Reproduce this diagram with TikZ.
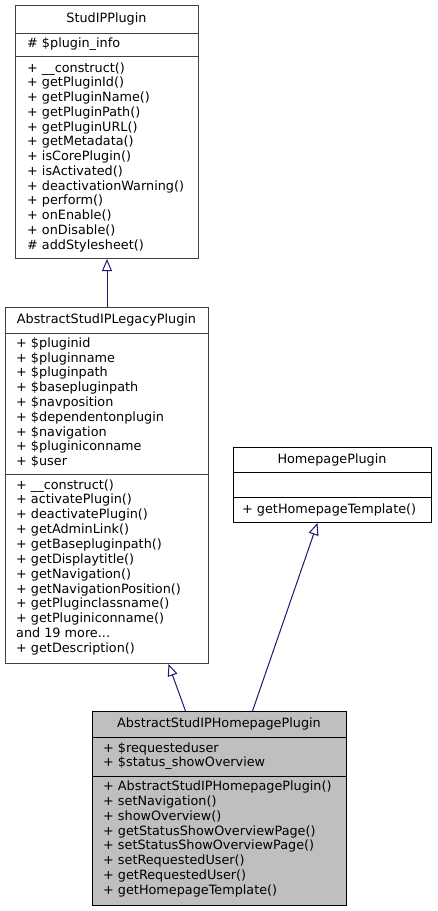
\documentclass[tikz,border=0pt]{standalone}
\usepackage{fontspec}
\setmainfont{DejaVu Sans}
\usetikzlibrary{arrows.meta}
\definecolor{edgeblue}{HTML}{191970}
\definecolor{boxgray}{HTML}{404040}
\definecolor{rootfill}{HTML}{BFBFBF}
\tikzset{
  classbox/.style={draw=boxgray, line width=1pt, anchor=north west, inner sep=0pt},
  sepline/.style={draw=boxgray, line width=1pt},
  member/.style={anchor=base west, inner sep=0pt},
  classname/.style={anchor=base, inner sep=0pt},
  inherit/.style={draw=edgeblue, line width=1pt, -{Triangle[open, length=12pt, width=10pt]}}
}
\begin{document}
\begin{tikzpicture}[x=1pt, y=-1pt]
\useasboundingbox (0,0) rectangle (437,911);
\fontsize{12.8}{14.8}\selectfont

% class boxes
\node[classbox, minimum width=183pt, minimum height=253pt] (studip) at (15,5) {};
\node[classbox, minimum width=203pt, minimum height=356pt] (legacy) at (5,307) {};
\node[classbox, draw=black, minimum width=198pt, minimum height=75pt] (homepage) at (233,447) {};
\node[classbox, draw=black, fill=rootfill, minimum width=254pt, minimum height=194pt] (abstracthp) at (92,711) {};

\draw[sepline] (15,33) -- (198,33);
\draw[sepline] (15,56) -- (198,56);
\draw[sepline] (5,333) -- (208,333);
\draw[sepline] (5,474) -- (208,474);
\draw[sepline, draw=black] (233,472) -- (431,472);
\draw[sepline, draw=black] (233,497) -- (431,497);
\draw[sepline, draw=black] (92,737) -- (346,737);
\draw[sepline, draw=black] (92,776) -- (346,776);

% StudIPPlugin
\node[classname] (studip-name) at (106.5,22) {StudIPPlugin};
\node[member] (studip-a1) at (27,47.5) {\# \$plugin\_info};
\node[member] (studip-m1) at (27,72) {+ \_\_construct()};
\node[member] (studip-m2) at (27,86.75) {+ getPluginId()};
\node[member] (studip-m3) at (27,101.5) {+ getPluginName()};
\node[member] (studip-m4) at (27,116.25) {+ getPluginPath()};
\node[member] (studip-m5) at (27,131) {+ getPluginURL()};
\node[member] (studip-m6) at (27,145.75) {+ getMetadata()};
\node[member] (studip-m7) at (27,160.5) {+ isCorePlugin()};
\node[member] (studip-m8) at (27,175.25) {+ isActivated()};
\node[member] (studip-m9) at (27,190) {+ deactivationWarning()};
\node[member] (studip-m10) at (27,204.75) {+ perform()};
\node[member] (studip-m11) at (27,219.5) {+ onEnable()};
\node[member] (studip-m12) at (27,234.25) {+ onDisable()};
\node[member] (studip-m13) at (27,249) {\# addStylesheet()};

% AbstractStudIPLegacyPlugin
\node[classname] (legacy-name) at (106.5,323.5) {AbstractStudIPLegacyPlugin};
\node[member] (legacy-a1) at (16,347.3) {+ \$pluginid};
\node[member] (legacy-a2) at (16,362.1) {+ \$pluginname};
\node[member] (legacy-a3) at (16,376.9) {+ \$pluginpath};
\node[member] (legacy-a4) at (16,391.7) {+ \$basepluginpath};
\node[member] (legacy-a5) at (16,406.5) {+ \$navposition};
\node[member] (legacy-a6) at (16,421.3) {+ \$dependentonplugin};
\node[member] (legacy-a7) at (16,436.1) {+ \$navigation};
\node[member] (legacy-a8) at (16,450.9) {+ \$pluginiconname};
\node[member] (legacy-a9) at (16,465.7) {+ \$user};
\node[member] (legacy-m1) at (16,489) {+ \_\_construct()};
\node[member] (legacy-m2) at (16,503.9) {+ activatePlugin()};
\node[member] (legacy-m3) at (16,518.7) {+ deactivatePlugin()};
\node[member] (legacy-m4) at (16,533.6) {+ getAdminLink()};
\node[member] (legacy-m5) at (16,548.4) {+ getBasepluginpath()};
\node[member] (legacy-m6) at (16,563.3) {+ getDisplaytitle()};
\node[member] (legacy-m7) at (16,578.1) {+ getNavigation()};
\node[member] (legacy-m8) at (16,593) {+ getNavigationPosition()};
\node[member] (legacy-m9) at (16,607.8) {+ getPluginclassname()};
\node[member] (legacy-m10) at (16,622.7) {+ getPluginiconname()};
\node[member] (legacy-m11) at (16,637.5) {and 19 more...};
\node[member] (legacy-m12) at (16,652.4) {+ getDescription()};

% HomepagePlugin
\node[classname] (homepage-name) at (332,463.5) {HomepagePlugin};
\node[member] (homepage-m1) at (242,513) {+ getHomepageTemplate()};

% AbstractStudIPHomepagePlugin
\node[classname] (abstracthp-name) at (219,727) {AbstractStudIPHomepagePlugin};
\node[member] (abstracthp-a1) at (103,752.3) {+ \$requesteduser};
\node[member] (abstracthp-a2) at (103,766.7) {+ \$status\_showOverview};
\node[member] (abstracthp-m1) at (103,790.7) {+ AbstractStudIPHomepagePlugin()};
\node[member] (abstracthp-m2) at (103,805.5) {+ setNavigation()};
\node[member] (abstracthp-m3) at (103,820.2) {+ showOverview()};
\node[member] (abstracthp-m4) at (103,835) {+ getStatusShowOverviewPage()};
\node[member] (abstracthp-m5) at (103,849.7) {+ setStatusShowOverviewPage()};
\node[member] (abstracthp-m6) at (103,864.5) {+ setRequestedUser()};
\node[member] (abstracthp-m7) at (103,879.3) {+ getRequestedUser()};
\node[member] (abstracthp-m8) at (103,894) {+ getHomepageTemplate()};

% inheritance
\draw[inherit] (legacy.north) -- (studip.south);
\draw[inherit] ([xshift=-34pt]abstracthp.north) -- ([xshift=61.5pt]legacy.south);
\draw[inherit] ([xshift=33pt]abstracthp.north) -- ([xshift=-15pt]homepage.south);
\end{tikzpicture}
\end{document}
